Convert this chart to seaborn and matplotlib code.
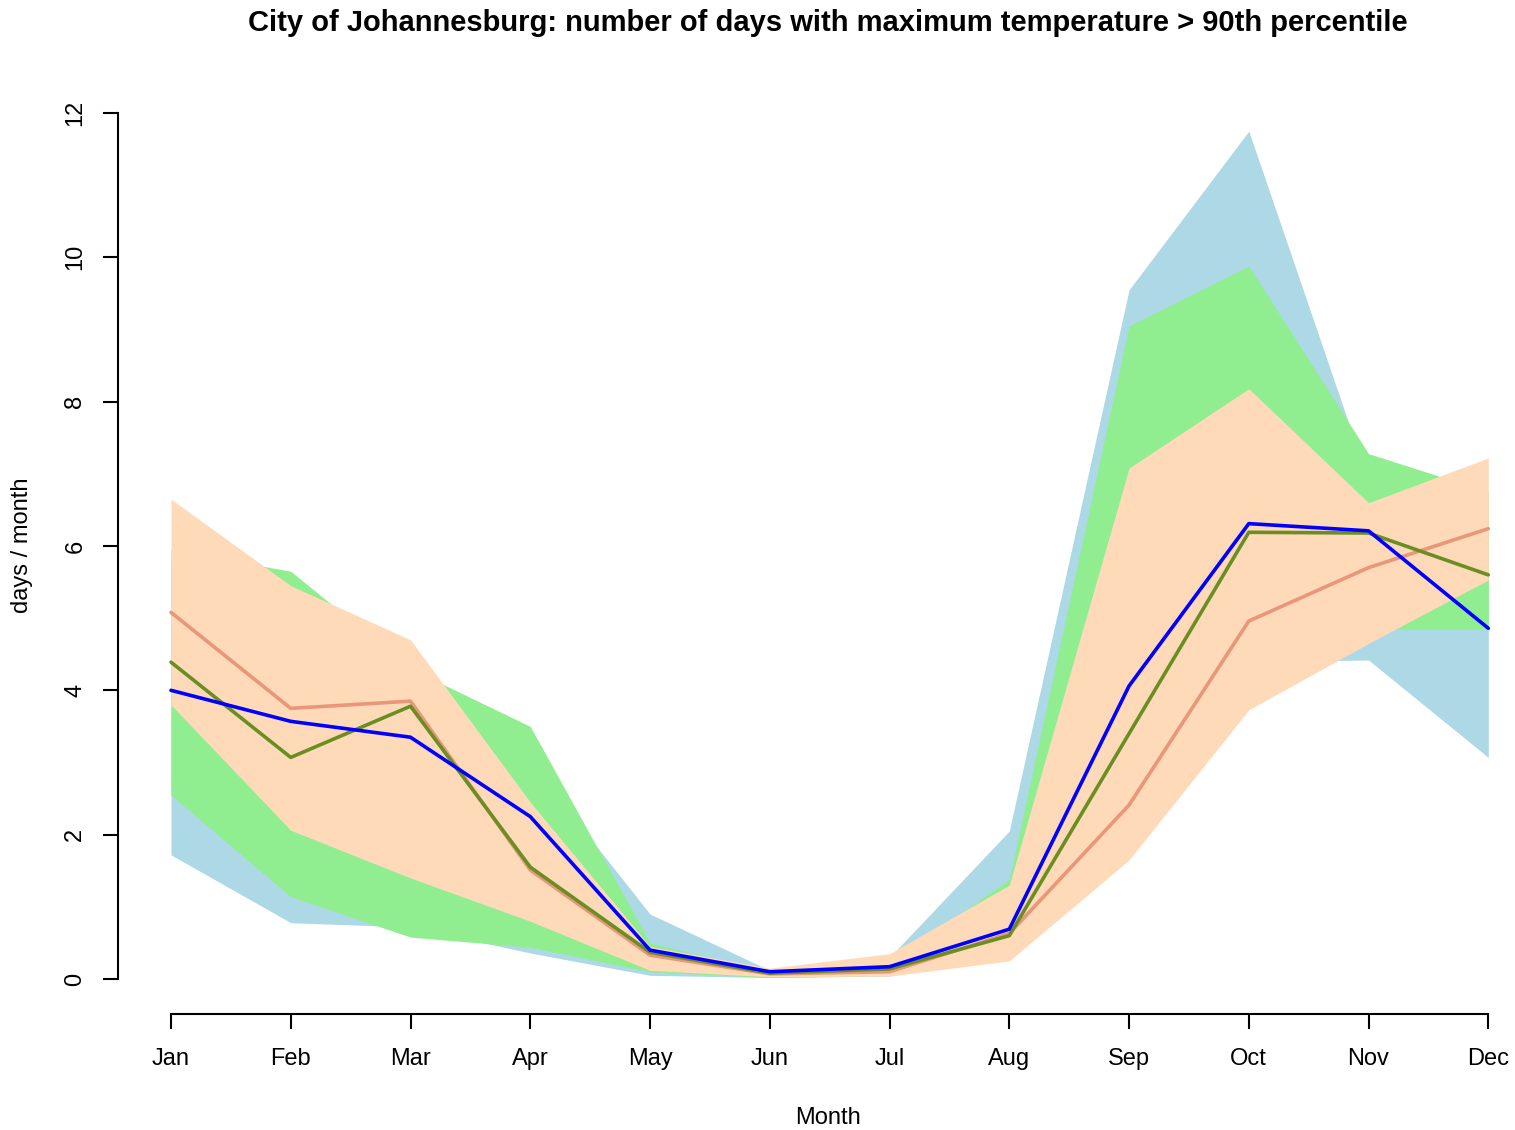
import matplotlib
matplotlib.use("Agg")
import matplotlib.pyplot as plt
import seaborn as sns

# month axis
months = ["Jan", "Feb", "Mar", "Apr", "May", "Jun",
          "Jul", "Aug", "Sep", "Oct", "Nov", "Dec"]
month_idx = list(range(1, 13))

# band 1 (light blue)
blue_lo = [1.72, 0.78, 0.72, 0.36, 0.05, 0.02, 0.04, 0.35, 2.50, 4.40, 4.42, 3.07]
blue_hi = [5.80, 5.50, 4.20, 3.00, 0.90, 0.12, 0.30, 2.05, 9.55, 11.75, 6.90, 6.00]
# band 2 (light green)
green_lo = [2.55, 1.14, 0.58, 0.44, 0.10, 0.02, 0.05, 0.30, 2.20, 4.20, 4.85, 4.85]
green_hi = [5.95, 5.65, 4.30, 3.50, 0.50, 0.10, 0.22, 1.38, 9.05, 9.88, 7.28, 6.75]
# band 3 (peach)
peach_lo = [3.80, 2.06, 1.40, 0.80, 0.12, 0.03, 0.04, 0.25, 1.65, 3.73, 4.65, 5.53]
peach_hi = [6.65, 5.45, 4.70, 2.45, 0.45, 0.15, 0.35, 1.30, 7.08, 8.18, 6.60, 7.22]

# median lines
blue_mid = [4.00, 3.57, 3.35, 2.25, 0.40, 0.10, 0.17, 0.69, 4.06, 6.31, 6.21, 4.86]
green_mid = [4.39, 3.07, 3.78, 1.55, 0.37, 0.08, 0.14, 0.60, 3.40, 6.19, 6.18, 5.60]
salmon_mid = [5.08, 3.75, 3.85, 1.51, 0.33, 0.07, 0.10, 0.63, 2.41, 4.96, 5.70, 6.24]

sns.set_style("white")
plt.rcParams["font.family"] = ["Liberation Sans", "DejaVu Sans"]
plt.rcParams["text.color"] = "black"
plt.rcParams["axes.labelcolor"] = "black"

fig = plt.figure(figsize=(15.15, 11.30), dpi=100)
# plot region like R's default device (region runs a bit past the right edge)
ax = fig.add_axes([118.3 / 1515, 1 - 1013.6 / 1130, 1422.7 / 1515, 935.2 / 1130])

ax.fill_between(month_idx, blue_lo, blue_hi, color="lightblue", lw=0)
ax.fill_between(month_idx, green_lo, green_hi, color="lightgreen", lw=0)
ax.fill_between(month_idx, peach_lo, peach_hi, color="peachpuff", lw=0)

sns.lineplot(x=month_idx, y=salmon_mid, color="darksalmon", lw=2.6, ax=ax)
sns.lineplot(x=month_idx, y=green_mid, color="olivedrab", lw=2.6, ax=ax)
sns.lineplot(x=month_idx, y=blue_mid, color="blue", lw=2.6, ax=ax)

ax.set_xlim(0.56, 12.44)
ax.set_ylim(-0.48, 12.48)
ax.set_xticks(month_idx)
ax.set_xticklabels(months)
ax.set_yticks([0, 2, 4, 6, 8, 10, 12])
ax.set_yticklabels(["0", "2", "4", "6", "8", "10", "12"], rotation=90, va="center")

for side in ["top", "right"]:
    ax.spines[side].set_visible(False)
ax.spines["left"].set_bounds(0, 12)
ax.spines["bottom"].set_bounds(1, 12)
for side in ["left", "bottom"]:
    ax.spines[side].set_linewidth(1.5)
    ax.spines[side].set_color("black")
ax.tick_params(axis="both", direction="out", length=11, width=1.5,
               labelsize=17, colors="black", bottom=True, left=True)
ax.tick_params(axis="x", pad=14)
ax.tick_params(axis="y", pad=12)

ax.set_xlabel("")
ax.set_ylabel("")
fig.text(828 / 1515, 1 - 1118 / 1130, "Month", ha="center", va="center", fontsize=17)
fig.text(22 / 1515, 1 - 545 / 1130, "days / month", ha="center", va="center",
         rotation=90, fontsize=17)

fig.text(828 / 1515, 1 - 23 / 1130,
         "City of Johannesburg: number of days with maximum temperature > 90th percentile",
         ha="center", va="center", fontsize=21, fontweight="bold")

fig.savefig("out.png", dpi=100)
